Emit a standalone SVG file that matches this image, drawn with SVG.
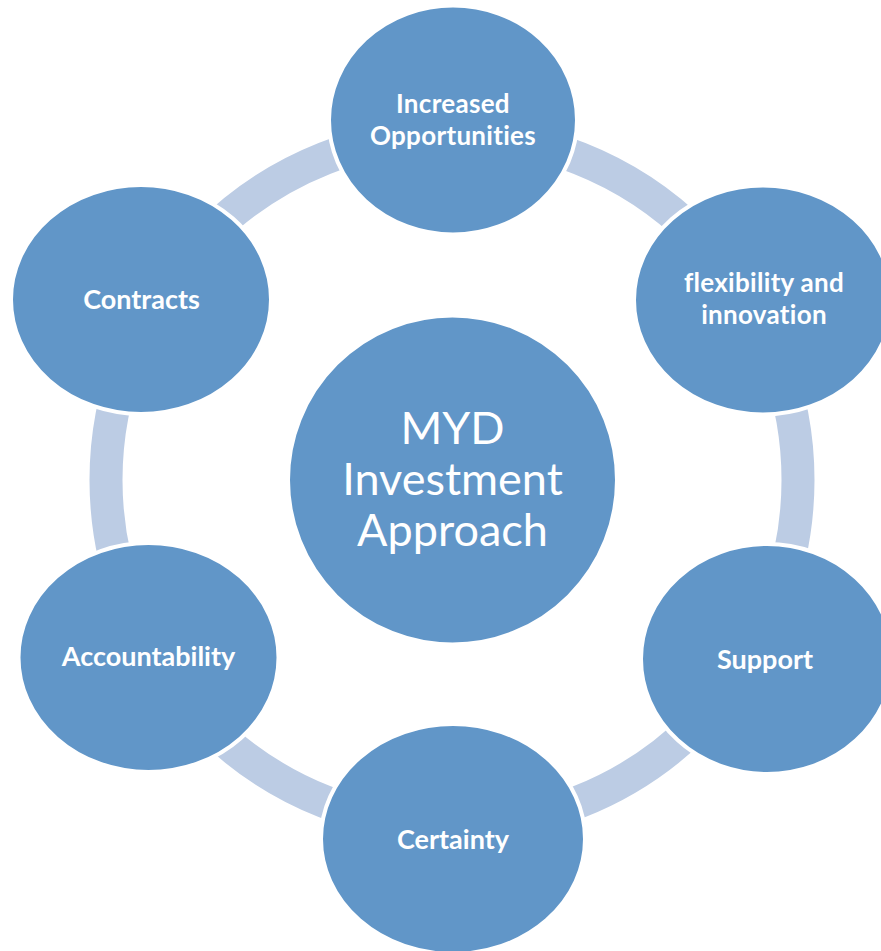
<svg xmlns="http://www.w3.org/2000/svg" width="881" height="951" viewBox="0 0 881 951">
<style>
.node{fill:#6196C8;stroke:#FFFFFF;stroke-width:4}
.lbl{font-family:Lato,"Open Sans","Liberation Sans",sans-serif;font-weight:bold;font-size:27px;fill:#FFFFFF;text-anchor:middle}
.lbl2{font-family:Lato,"Open Sans","Liberation Sans",sans-serif;font-weight:bold;font-size:26px;letter-spacing:0.3px;fill:#FFFFFF;text-anchor:middle}
.ctr{font-family:Lato,"Open Sans","Liberation Sans",sans-serif;font-size:45px;fill:#FFFFFF;text-anchor:middle}
.ring{fill:none;stroke:#BCCCE4;stroke-width:33}
</style>
<rect width="881" height="951" fill="#FFFFFF"/>
<g id="connectors">
<circle class="ring" cx="452" cy="480" r="346"/>
</g>
<g id="center">
<circle class="node" cx="452.5" cy="480" r="164.5"/>
<text class="ctr"><tspan x="452.5" y="444">MYD</tspan><tspan x="452.5" y="495">Investment</tspan><tspan x="452.5" y="546">Approach</tspan></text>
</g>
<g id="node-opportunities">
<ellipse class="node" cx="453" cy="120" rx="124" ry="114.5"/>
<text class="lbl2"><tspan x="453" y="113">Increased</tspan><tspan x="453" y="145">Opportunities</tspan></text>
</g>
<g id="node-flexibility">
<ellipse class="node" cx="763" cy="300" rx="129" ry="114.5"/>
<text class="lbl2"><tspan x="764" y="292">flexibility and</tspan><tspan x="764" y="324">innovation</tspan></text>
</g>
<g id="node-support">
<ellipse class="node" cx="767" cy="659" rx="126" ry="115"/>
<text class="lbl" x="765" y="669">Support</text>
</g>
<g id="node-certainty">
<ellipse class="node" cx="453" cy="839" rx="132" ry="115"/>
<text class="lbl" x="453" y="849">Certainty</text>
</g>
<g id="node-accountability">
<ellipse class="node" cx="148.5" cy="657.5" rx="130" ry="114.5"/>
<text class="lbl" x="148.5" y="666">Accountability</text>
</g>
<g id="node-contracts">
<ellipse class="node" cx="141" cy="299.5" rx="130" ry="114.5"/>
<text class="lbl" x="141.5" y="309">Contracts</text>
</g>
</svg>
